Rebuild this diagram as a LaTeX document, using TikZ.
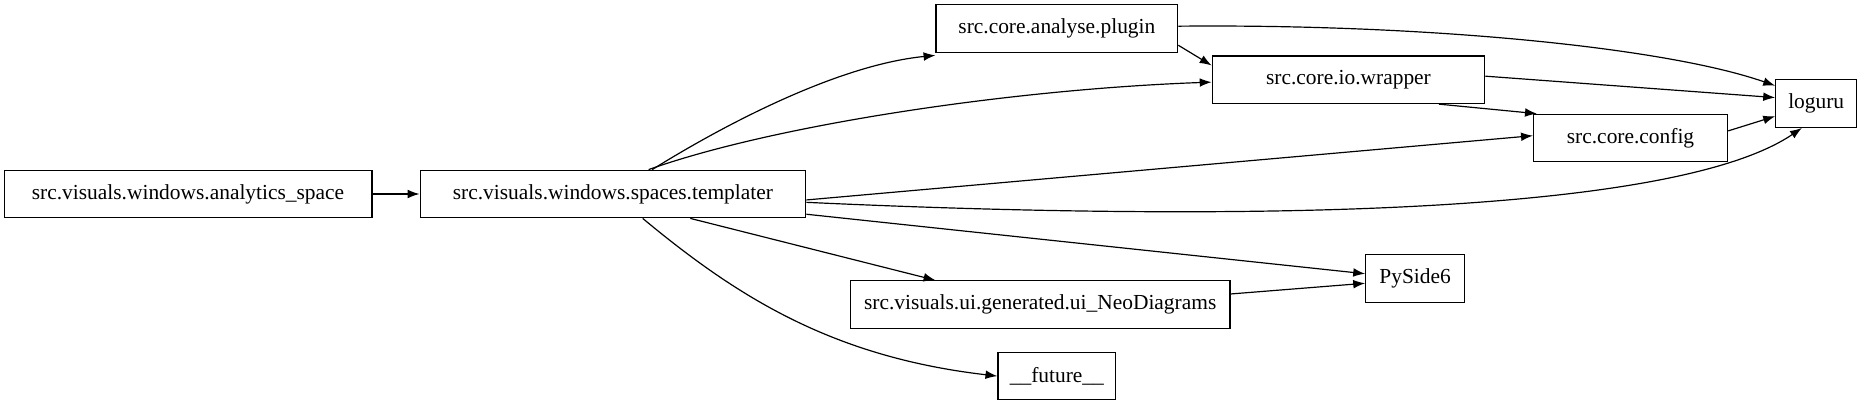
\documentclass[tikz,border=0pt]{standalone}
\usepackage{fontspec}
\setmainfont{Liberation Serif}
\usetikzlibrary{arrows.meta}
\begin{document}
\begin{tikzpicture}[x=0.75pt,y=-0.75pt,
  box/.style={draw,line width=0.75pt,minimum height=30pt,inner xsep=6pt,font=\fontsize{13.5pt}{16pt}\selectfont},
  e/.style={line width=0.75pt,-{Latex[length=7.5pt,width=5.5pt]}}]
\useasboundingbox (0,0) rectangle (1567,340.3);
\node[box,minimum width=231.75pt] (a) at (158,163) {src.visuals.windows.analytics\_space};
\node[box,minimum width=243pt] (t) at (515,163) {src.visuals.windows.spaces.templater};
\node[box,minimum width=152.25pt] (p) at (888,24) {src.core.analyse.plugin};
\node[box,minimum width=171.75pt] (w) at (1133,67) {src.core.io.wrapper};
\node[box,minimum width=122.25pt] (c) at (1370,116) {src.core.config};
\node[box,minimum width=51pt] (l) at (1526,87) {loguru};
\node[box,minimum width=62.25pt] (s) at (1189,234) {PySide6};
\node[box,minimum width=239.25pt] (n) at (874,256) {src.visuals.ui.generated.ui\_NeoDiagrams};
\node[box,minimum width=74.25pt] (f) at (888,316) {\_\_future\_\_};
\draw[e] (a) -- (t);
\draw[e] ([xshift=24.75pt]t.north) .. controls (600,110) and (700,55) .. ([yshift=-1.5pt]p.south west);
\draw[e] ([xshift=22.5pt]t.north) .. controls (650,105) and (850,75) .. ([yshift=-1.5pt]w.west);
\draw[e] ([yshift=-3.75pt]t.east) -- ([yshift=1.5pt]c.west);
\draw[e] ([yshift=-5.25pt]t.east) .. controls (1000,185) and (1400,185) .. ([xshift=-9pt]l.south);
\draw[e] ([yshift=-12.75pt]t.east) -- ([yshift=3pt]s.west);
\draw[e] ([xshift=48.75pt]t.south) -- ([xshift=-66pt]n.north);
\draw[e] ([xshift=18.75pt]t.south) .. controls (620,250) and (700,300) .. (f.west);
\draw[e] ([yshift=-10.5pt]p.east) -- ([yshift=9pt]w.west);
\draw[e] ([yshift=1.5pt]p.east) .. controls (1200,20) and (1400,40) .. ([yshift=11.25pt]l.west);
\draw[e] ([yshift=2.25pt]w.east) -- ([yshift=3.75pt]l.west);
\draw[e] ([xshift=57pt]w.south) -- ([xshift=-59pt]c.north);
\draw[e] ([yshift=4.5pt]c.east) -- ([yshift=-8pt]l.west);
\draw[e] ([yshift=6.75pt]n.east) -- ([yshift=-3pt]s.west);
\end{tikzpicture}
\end{document}
